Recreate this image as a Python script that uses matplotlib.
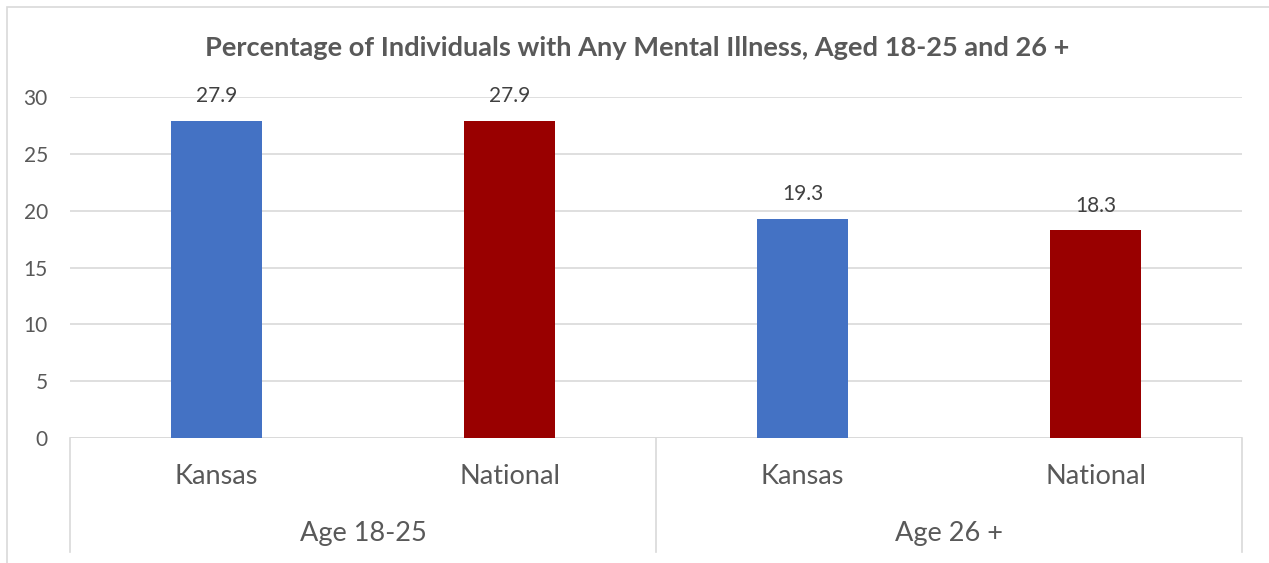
import matplotlib.pyplot as plt
from matplotlib.patches import Rectangle

# datos
groups = ['Age 18-25', 'Age 26 +']
regions = ['Kansas', 'National']
values = [27.9, 27.9, 19.3, 18.3]
bar_colors = ['#4472C4', '#990000', '#4472C4', '#990000']
yticks = [0, 5, 10, 15, 20, 25, 30]
title = 'Percentage of Individuals with Any Mental Illness, Aged 18-25 and 26 +'

plt.rcParams['font.family'] = ['Lato', 'DejaVu Sans']
TXT = '#595959'
GRID = '#d9d9d9'

W, H = 1269, 563
fig = plt.figure(figsize=(W / 100, H / 100), dpi=100)

# borde exterior del gráfico
fig.patches.append(Rectangle((7 / W, -0.1), 1.2, 1 - 7 / H + 0.1, transform=fig.transFigure,
                             fill=False, edgecolor=GRID, linewidth=1.2))

ax = fig.add_axes([70 / W, (H - 438) / H, (1242 - 70) / W, (438 - 97) / H])
x = list(range(len(values)))
ax.bar(x, values, width=0.31, color=bar_colors, zorder=3)
for xi, v in zip(x, values):
    ax.text(xi, v + 2.15, f'{v:.1f}', ha='center', va='center', fontsize=15, color='#404040')

ax.set_xlim(-0.5, 3.5)
ax.set_ylim(0, 30)
ax.set_yticks(yticks)
ax.set_yticklabels([str(t) for t in yticks], fontsize=15, color=TXT)
ax.tick_params(axis='y', length=0, pad=16)
ax.set_xticks([])
ax.grid(axis='y', color=GRID, linewidth=1.2, zorder=0)
for s in ax.spines.values():
    s.set_visible(False)
ax.axhline(0, color=GRID, linewidth=1.2, zorder=2)

# eje de categorías en dos niveles
tr = ax.get_xaxis_transform()
depth = (552 - 438) / (438 - 97)
for sx in [-0.5, 1.5, 3.5]:
    ax.plot([sx, sx], [0, -depth], transform=tr, color=GRID, linewidth=1.2, clip_on=False)
for i, xi in enumerate(x):
    ax.text(xi, -(477 - 438) / 341, regions[i % 2], transform=tr, ha='center', va='center',
            fontsize=19.5, color=TXT)
for g, name in enumerate(groups):
    ax.text(2 * g + 0.5, -(533 - 438) / 341, name, transform=tr, ha='center', va='center',
            fontsize=19.5, color=TXT)

fig.text(637 / W, 1 - 48 / H, title, ha='center', va='center', fontsize=19.6,
         fontweight='bold', color=TXT)

fig.savefig('out.png', dpi=100)
